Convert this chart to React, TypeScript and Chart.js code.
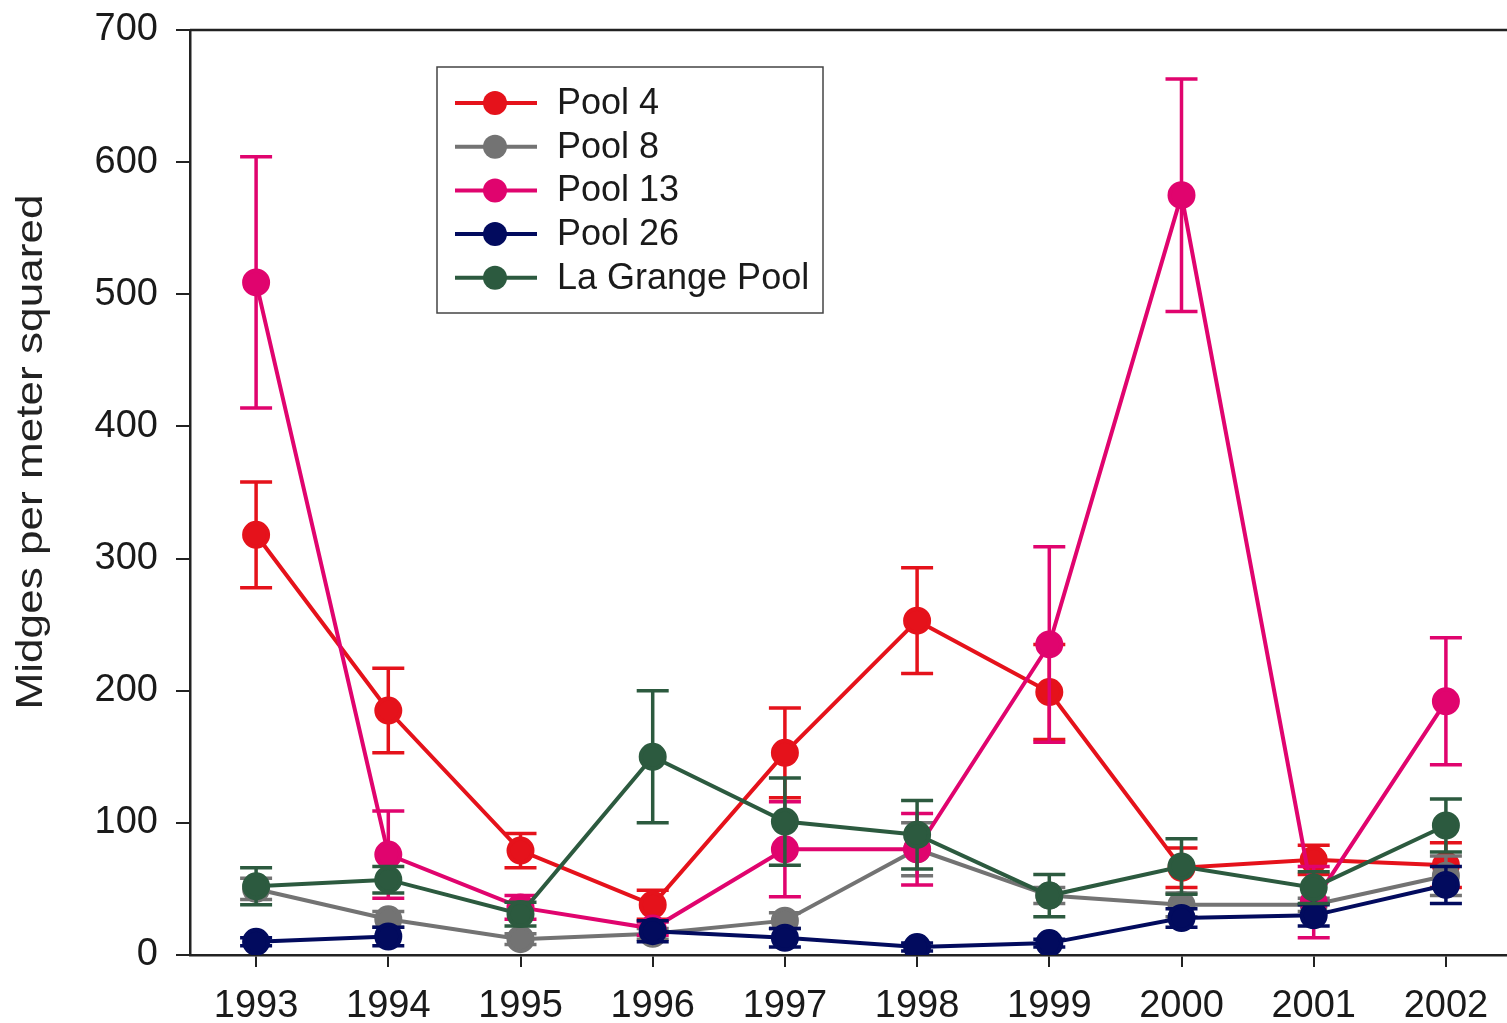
import React, { useEffect, useRef } from "react";
import { Chart, registerables } from "chart.js";

Chart.register(...registerables);

const years = ["1993", "1994", "1995", "1996", "1997", "1998", "1999", "2000", "2001", "2002"];
const yTicks = [0, 100, 200, 300, 400, 500, 600, 700];

const pool4 = [318, 185, 79, 38, 153, 253, 199, 66, 72, 68];
const pool4Err = [40, 32, 13, 11, 34, 40, 36, 15, 11, 17];

const pool8 = [50, 27, 12, 16, 26, 80, 45, 38, 38, 60];
const pool8Err = [8, 6, 4, 4, 6, 20, 6, 9, 5, 15];

const pool13 = [509, 76, 36, 20, 80, 80, 235, 575, 40, 192];
const pool13Err = [95, 33, 9, 5, 36, 27, 74, 88, 27, 48];

const pool26 = [10, 14, null, 18, 13, 6, 9, 28, 30, 53];
const pool26Err = [3, 7, 0, 8, 7, 3, 3, 7, 8, 14];

const laGrange = [52, 57, 31, 150, 101, 91, 45, 67, 51, 98];
const laGrangeErr = [14, 10, 9, 50, 33, 26, 16, 21, 12, 20];

const seriesNames = ["Pool 4", "Pool 8", "Pool 13", "Pool 26", "La Grange Pool"];
const seriesColors = ["#e5121b", "#737373", "#e0046e", "#020b5e", "#2c5a3f"];
const seriesValues = [pool4, pool8, pool13, pool26, laGrange];
const seriesErrors = [pool4Err, pool8Err, pool13Err, pool26Err, laGrangeErr];

const yTitle = "Midges per meter squared";
const FONT = "'Liberation Sans', Arial, sans-serif";

const errorBarPlugin = {
  id: "errorBars",
  beforeDatasetDraw(chart: any, args: any) {
    const ds: any = chart.data.datasets[args.index];
    const errs: number[] = ds.errors;
    if (!errs) return;
    const ctx = chart.ctx;
    const yScale = chart.scales.y;
    ctx.save();
    ctx.strokeStyle = ds.borderColor;
    ctx.lineWidth = 3.5;
    ctx.lineCap = "butt";
    args.meta.data.forEach((pt: any, i: number) => {
      const v = ds.data[i];
      if (v == null || !errs[i]) return;
      const x = pt.x;
      const yt = yScale.getPixelForValue(v + errs[i]);
      const yb = yScale.getPixelForValue(Math.max(0, v - errs[i]));
      ctx.beginPath();
      ctx.moveTo(x, yt);
      ctx.lineTo(x, yb);
      ctx.moveTo(x - 16, yt);
      ctx.lineTo(x + 16, yt);
      ctx.moveTo(x - 16, yb);
      ctx.lineTo(x + 16, yb);
      ctx.stroke();
    });
    ctx.restore();
  },
};

const framePlugin = {
  id: "frame",
  afterDraw(chart: any) {
    const { ctx, chartArea } = chart;
    ctx.save();
    ctx.strokeStyle = "#222";
    ctx.lineWidth = 2.5;
    ctx.beginPath();
    ctx.moveTo(chartArea.left, chartArea.top);
    ctx.lineTo(chartArea.right, chartArea.top);
    ctx.lineTo(chartArea.right, chartArea.bottom);
    ctx.stroke();
    ctx.restore();
  },
};

const titlePlugin = {
  id: "yTitleStretched",
  afterDraw(chart: any) {
    const ctx = chart.ctx;
    ctx.save();
    ctx.font = `36px ${FONT}`;
    const w = ctx.measureText(yTitle).width;
    const target = 515;
    ctx.translate(32, 452);
    ctx.rotate(-Math.PI / 2);
    ctx.scale(target / w, 1);
    ctx.fillStyle = "#222";
    ctx.textAlign = "center";
    ctx.textBaseline = "middle";
    ctx.fillText(yTitle, 0, 0);
    ctx.restore();
  },
};

const legendPlugin = {
  id: "boxLegend",
  afterDraw(chart: any) {
    const ctx = chart.ctx;
    const x0 = 437, y0 = 67, x1 = 823, y1 = 313;
    ctx.save();
    ctx.fillStyle = "#fff";
    ctx.fillRect(x0, y0, x1 - x0, y1 - y0);
    ctx.strokeStyle = "#444";
    ctx.lineWidth = 1.5;
    ctx.strokeRect(x0, y0, x1 - x0, y1 - y0);
    const rowH = 43.7;
    chart.data.datasets.forEach((ds: any, i: number) => {
      const cy = 103 + i * rowH;
      ctx.strokeStyle = ds.borderColor;
      ctx.lineWidth = 4;
      ctx.beginPath();
      ctx.moveTo(455, cy);
      ctx.lineTo(537, cy);
      ctx.stroke();
      ctx.fillStyle = ds.borderColor;
      ctx.beginPath();
      ctx.arc(495, cy, 12, 0, Math.PI * 2);
      ctx.fill();
      ctx.fillStyle = "#1a1a1a";
      ctx.font = `36px ${FONT}`;
      ctx.textAlign = "left";
      ctx.textBaseline = "middle";
      ctx.fillText(ds.label, 557, cy + 1);
    });
    ctx.restore();
  },
};

export default function App() {
  const ref = useRef<HTMLCanvasElement | null>(null);

  useEffect(() => {
    if (!ref.current) return;
    const datasets = seriesNames.map((name, i) => ({
      label: name,
      data: seriesValues[i],
      errors: seriesErrors[i],
      order: seriesNames.length - i,
      borderColor: seriesColors[i],
      backgroundColor: seriesColors[i],
      pointBackgroundColor: seriesColors[i],
      pointBorderColor: seriesColors[i],
      pointRadius: 12,
      pointHoverRadius: 12,
      borderWidth: 4,
      tension: 0,
      spanGaps: false,
    }));
    const chart = new Chart(ref.current, {
      type: "line",
      data: { labels: years, datasets: datasets as any },
      options: {
        responsive: false,
        animation: false,
        devicePixelRatio: 1,
        layout: { padding: { left: 0, top: 30, right: 18, bottom: 0 } },
        plugins: {
          legend: { display: false },
          tooltip: { enabled: false },
          title: { display: false },
        },
        scales: {
          x: {
            type: "category",
            offset: true,
            grid: {
              display: true,
              drawOnChartArea: false,
              drawTicks: true,
              tickLength: 12,
              color: "#222",
              lineWidth: 2,
              offset: false,
            },
            border: { display: true, color: "#222", width: 2.5 },
            ticks: {
              color: "#1a1a1a",
              font: { family: FONT, size: 38 },
              padding: 17,
              maxRotation: 0,
              autoSkip: false,
            },
            afterFit(scale: any) {
              scale.height = 68;
              scale.paddingLeft = 0;
              scale.paddingRight = 0;
            },
          },
          y: {
            min: 0,
            max: 700,
            afterBuildTicks(scale: any) {
              scale.ticks = yTicks.map((v) => ({ value: v }));
            },
            grid: {
              display: true,
              drawOnChartArea: false,
              drawTicks: true,
              tickLength: 14,
              color: "#222",
              lineWidth: 2,
            },
            border: { display: true, color: "#222", width: 2.5 },
            ticks: {
              color: "#1a1a1a",
              font: { family: FONT, size: 38 },
              padding: 18,
            },
            afterFit(scale: any) {
              scale.width = 190;
              scale.paddingTop = 0;
              scale.paddingBottom = 0;
            },
          },
        },
      },
      plugins: [errorBarPlugin, framePlugin, titlePlugin, legendPlugin],
    });
    return () => chart.destroy();
  }, []);

  return (
    <div
      style={{
        position: "fixed",
        left: 0,
        top: 0,
        width: 1507,
        height: 1023,
        overflow: "hidden",
        background: "#fff",
      }}
    >
      <canvas ref={ref} width={1530} height={1023} style={{ width: 1530, height: 1023, display: "block" }} />
    </div>
  );
}
